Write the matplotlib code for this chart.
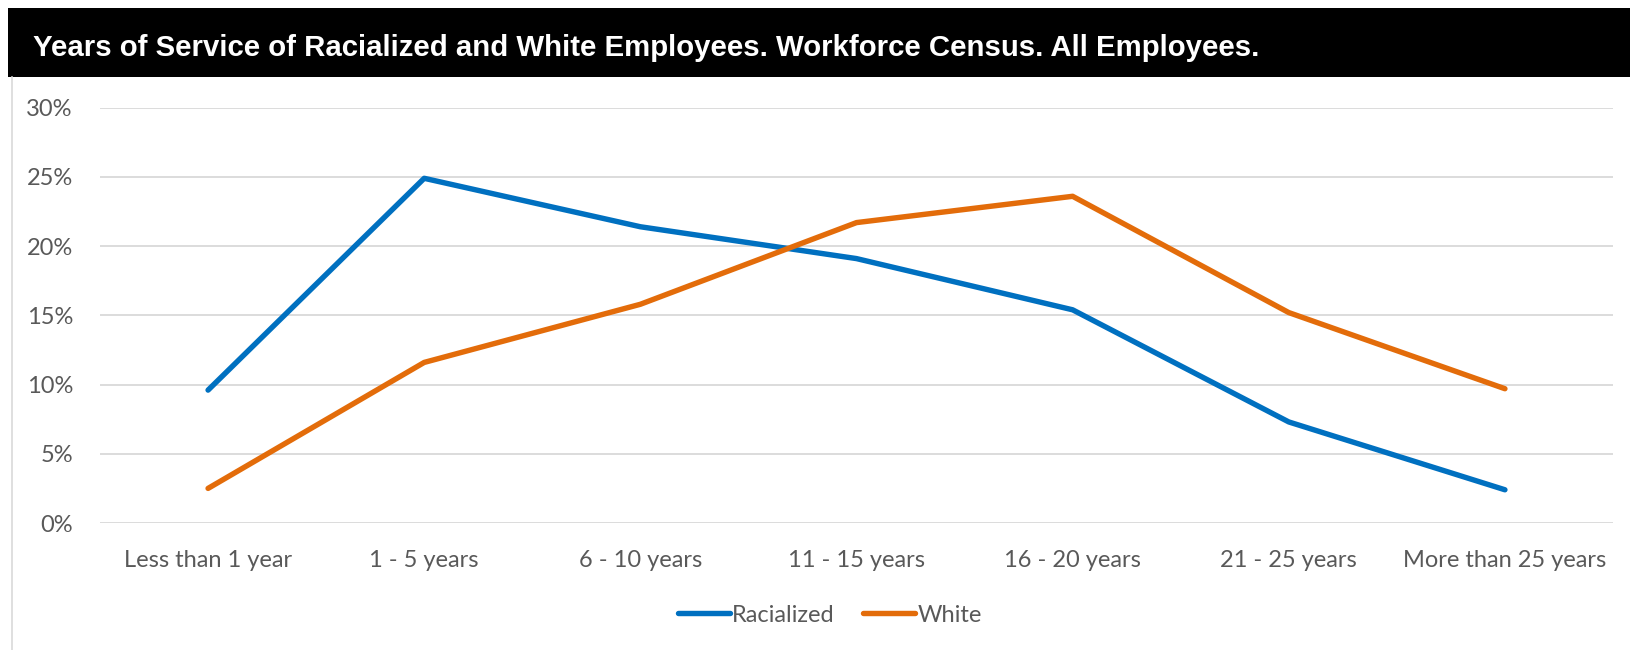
import matplotlib
matplotlib.use("Agg")
import matplotlib.pyplot as plt
from matplotlib.patches import Rectangle
from matplotlib.lines import Line2D

categories = ["Less than 1 year", "1 - 5 years", "6 - 10 years", "11 - 15 years",
              "16 - 20 years", "21 - 25 years", "More than 25 years"]
racialized = [9.6, 24.9, 21.4, 19.1, 15.4, 7.3, 2.4]
white = [2.5, 11.6, 15.8, 21.7, 23.6, 15.2, 9.7]
y_ticks = [0, 5, 10, 15, 20, 25, 30]
y_tick_labels = ["0%", "5%", "10%", "15%", "20%", "25%", "30%"]
title = "Years of Service of Racialized and White Employees. Workforce Census. All Employees."

W, H = 1631, 650
fig = plt.figure(figsize=(W / 100, H / 100), dpi=100)
fig.patch.set_facecolor("white")

def fx(px):
    return px / W

def fy(py):
    return 1 - py / H

# title bar
fig.patches.append(Rectangle((fx(8), fy(77)), 1 - fx(8), (77 - 8) / H,
                             transform=fig.transFigure, facecolor="black",
                             edgecolor="none", zorder=0))
fig.text(fx(33), fy(48), title, color="white", fontsize=21.2, fontweight="bold",
         family="Liberation Sans", va="center", ha="left")
# left border of chart area
fig.add_artist(Line2D([fx(12), fx(12)], [fy(77), 0], transform=fig.transFigure,
                      color="#d9d9d9", lw=1.2))

text_color = "#595959"
font = "Lato"
fsize = 17

ax_left, ax_right = 100, 1613
ax_h = (523 - 107.7) / H
ax = fig.add_axes([fx(ax_left), fy(523), fx(ax_right) - fx(ax_left), ax_h])
x = list(range(len(categories)))
ax.plot(x, racialized, color="#0070C0", lw=3.9, solid_capstyle="round",
        solid_joinstyle="round", label="Racialized", zorder=3)
ax.plot(x, white, color="#E36C0A", lw=3.9, solid_capstyle="round",
        solid_joinstyle="round", label="White", zorder=3)
ax.set_xlim(-0.5, len(categories) - 0.5)
ax.set_ylim(0, 30)
ax.set_yticks(y_ticks)
ax.set_yticklabels(y_tick_labels)
ax.set_xticks(x)
ax.set_xticklabels(categories)
ax.grid(axis="y", color="#d9d9d9", lw=1.3)
ax.set_axisbelow(True)
for s in ax.spines.values():
    s.set_visible(False)
ax.tick_params(length=0, colors=text_color, labelsize=fsize)
ax.tick_params(axis="y", pad=19.5)
ax.tick_params(axis="x", pad=19.5)
for lab in ax.get_xticklabels() + ax.get_yticklabels():
    lab.set_family(font)
    lab.set_color(text_color)

leg_cx = (830 - ax_left) / (ax_right - ax_left)
leg = ax.legend(loc="center", bbox_to_anchor=(leg_cx, (fy(615) - fy(523)) / ax_h),
                ncol=2, frameon=False, handlelength=2.2, handletextpad=0.1,
                columnspacing=1.2, prop={"family": font, "size": fsize})
for t in leg.get_texts():
    t.set_color(text_color)

fig.savefig("out.png", dpi=100)
